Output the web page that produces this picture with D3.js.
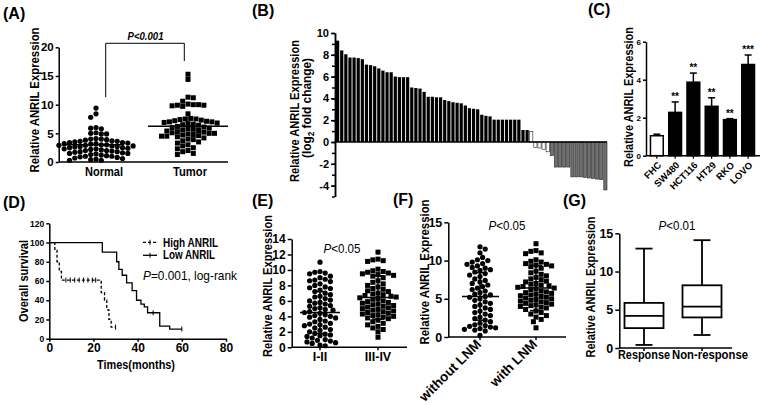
<!DOCTYPE html>
<html><head><meta charset="utf-8">
<script src="https://cdn.jsdelivr.net/npm/d3@7"></script>
<style>
body{margin:0;background:#fff;}
svg{display:block;font-family:"Liberation Sans",Arial,sans-serif;}
</style></head><body>
<svg id="c" width="761" height="405"></svg>
<script>
// ---------------- DATA ----------------
// (A) scatter
const aCats = ["Normal", "Tumor"];
const aNormal = [9.4,8.4,7.8,6.0,5.9,5.8,5.1,5.0,4.9,4.9,4.1,4.0,4.0,3.9,3.8,3.7,3.6,3.6,3.5,3.4,3.4,3.3,3.2,3.2,3.1,3.0,3.0,2.9,2.9,2.8,2.8,2.7,2.7,2.6,2.5,2.5,2.4,2.3,2.3,2.2,2.1,2.0,2.0,1.9,1.8,1.8,1.7,1.6,1.5,1.5,1.4,1.3,1.2,1.1,1.0,1.0,0.9,0.8,0.7,0.6,0.5,0.4,0.3,0.3];
const aTumor = [15.3,14.4,11.3,11.2,10.6,10.1,10.0,10.0,9.9,9.9,9.8,9.7,8.4,7.6,7.5,7.5,7.4,7.3,7.2,7.1,7.0,7.0,6.9,6.8,6.7,6.6,6.5,6.4,6.2,6.1,6.0,5.9,5.8,5.7,5.6,5.5,5.4,5.3,5.2,5.1,5.0,5.0,4.9,4.8,4.7,4.6,4.5,4.5,4.4,4.2,4.0,3.9,3.7,3.5,3.3,3.0,2.8,2.5,2.3,2.0,1.8,1.5,1.3];
const aMeans = [3.0, 6.25];
const aTicks = [0,5,10,15,20];

// (B) waterfall, log2 fold change
const bValues = [9.3,8.4,8.05,7.75,7.75,7.7,7.6,7.1,7.05,6.95,6.75,6.55,6.4,6.4,6.0,5.95,5.95,5.95,5.0,4.95,4.9,4.6,4.15,4.15,4.1,4.1,3.85,3.75,3.65,3.6,3.55,3.35,3.1,3.05,3.0,2.5,2.4,2.35,2.05,2.05,2.05,2.05,2.05,2.05,2.05,
  1.1,1.1,0.95,-0.5,-0.55,-0.7,-0.9,
  -1.25,-2.3,-2.3,-2.3,-2.3,-3.2,-3.2,-3.2,-3.25,-3.3,-3.35,-3.4,-3.45,-4.4];
const bTicks = [-4,-2,0,2,4,6,8,10];

// (C) cell lines
const cLines = ["FHC","SW480","HCT116","HT29","RKO","LOVO"];
const cMeans = [1.05,2.28,3.87,2.6,1.9,4.8];
const cErr   = [0.08,0.55,0.48,0.45,0.05,0.5];
const cStars = ["","**","**","**","**","***"];
const cTicks = [0,2,4,6];

// (D) Kaplan-Meier
const dHighT = [0,2.5,3.5,4.5,5.5,23.5,25,26,27,28,30];
const dHighS = [100,93,80,70,61,48,40,30,20,12,12];
const dHighCens = [7.5,9.5,11.5,13.5,15.5,17.5,19.5,21,30];
const dLowT = [0,24,30.5,31.5,33,35,37.5,39.5,41.5,43,44.5,50,54.5,60];
const dLowS = [100,90,80,72,66,58,50,40,36,33,27,13,10,10];
const dLowCens = [47,60];
const dXTicks = [0,20,40,60,80];
const dYTicks = [0,20,40,60,80,100,120];

// (E) stage
const eCats = ["I-II","III-IV"];
const eI = [11.0,9.8,9.7,9.6,9.5,9.2,9.0,8.8,8.7,8.6,8.5,8.2,8.0,7.8,7.7,7.6,7.4,7.2,7.0,6.8,6.6,6.5,6.3,6.1,6.0,5.8,5.7,5.6,5.4,5.3,5.1,5.0,4.9,4.8,4.6,4.5,4.4,4.2,4.1,4.0,3.9,3.8,3.6,3.4,3.3,3.1,3.0,2.9,2.8,2.6,2.5,2.3,2.2,2.0,1.8,1.7,1.6,1.5,1.4,1.2,1.0,0.9,0.8,0.7,0.6,0.5,0.3,0.2];
const eIII = [12.3,11.4,11.3,11.2,11.1,10.1,9.9,9.8,9.7,9.6,9.5,9.4,9.3,9.2,9.0,8.6,8.4,8.2,8.0,7.8,7.6,7.5,7.3,7.2,7.0,6.9,6.8,6.7,6.6,6.5,6.4,6.3,6.2,6.0,5.9,5.8,5.7,5.6,5.5,5.4,5.3,5.2,5.1,5.0,4.9,4.8,4.7,4.6,4.5,4.4,4.3,4.2,4.1,4.0,3.9,3.8,3.7,3.5,3.3,3.1,2.9,2.7,2.5,2.3,2.0,1.3];
const eMeans = [4.5,6.45];
const eSD = [2.7,2.8];
const eTicks = [0,2,4,6,8,10,12,14];

// (F) lymph node metastasis
const fCats = ["without LNM","with LNM"];
const fWithout = [11.8,11.5,11.0,10.4,10.1,10.0,9.8,9.6,9.5,9.3,9.1,9.0,8.8,8.7,8.5,8.3,8.1,7.9,7.6,7.4,7.2,7.0,6.8,6.6,6.4,6.2,6.0,5.8,5.6,5.5,5.3,5.2,5.0,4.8,4.6,4.4,4.2,4.0,3.8,3.6,3.4,3.2,3.0,2.8,2.6,2.4,2.2,2.0,1.8,1.6,1.5,1.4,1.3,1.2,1.1,1.0,0.9,0.8,0.2];
const fWith = [12.2,11.3,11.2,11.0,10.9,10.1,9.9,9.8,9.6,9.5,9.4,9.3,9.2,9.0,8.6,8.4,8.2,8.0,7.8,7.6,7.5,7.3,7.2,7.0,6.9,6.8,6.7,6.6,6.5,6.4,6.3,6.2,6.0,5.9,5.8,5.7,5.6,5.5,5.4,5.3,5.2,5.1,5.0,4.9,4.8,4.7,4.6,4.5,4.4,4.3,4.2,4.1,4.0,3.9,3.8,3.6,3.4,3.2,3.0,2.8,2.6,2.3,2.0,1.2];
const fMeans = [5.3,6.4];
const fSD = [3.1,2.95];
const fTicks = [0,5,10,15];

// (G) response boxplot
const gCats = ["Response","Non-response"];
const gMin = [0.4,1.7];
const gQ1  = [2.6,4.0];
const gMed = [4.2,5.4];
const gQ3  = [5.9,8.2];
const gMax = [13.0,14.1];
const gTicks = [0,5,10,15];

// ---------------- HELPERS ----------------
const svg = d3.select('#c');
function T(g, x, y, s, o={}){
  const t = g.append('text').attr('x',x).attr('y',y)
    .attr('font-size',o.size||12).attr('font-weight',o.weight||'bold')
    .attr('text-anchor',o.anchor||'start').attr('fill','#000');
  if (s!=null) t.text(s);
  if (o.italic) t.attr('font-style','italic');
  if (o.rot!=null) t.attr('transform',`rotate(${o.rot},${x},${y})`);
  if (o.len) t.attr('textLength',o.len).attr('lengthAdjust','spacingAndGlyphs');
  return t;
}
function yAxis(g, scale, x, ticks, o={}){
  const ax = d3.axisLeft(scale).tickValues(ticks).tickSize(o.ts||3).tickPadding(o.tp||2)
    .tickSizeOuter(0).tickFormat(o.fmt||(d=>String(d)));
  const a = g.append('g').attr('transform',`translate(${x},0)`).call(ax);
  a.attr('font-family',null).attr('font-size',null);
  a.select('.domain').attr('stroke','#000').attr('stroke-width',o.sw||1.5);
  a.selectAll('.tick line').attr('stroke','#000').attr('stroke-width',o.sw||1.5);
  a.selectAll('.tick text').attr('font-size',o.fs||11).attr('font-weight','bold').attr('fill','#000');
  return a;
}
function hline(g,x1,x2,y,sw=1.5){ g.append('line').attr('x1',x1).attr('x2',x2).attr('y1',y).attr('y2',y).attr('stroke','#000').attr('stroke-width',sw); }
function vline(g,x,y1,y2,sw=1.5){ g.append('line').attr('x1',x).attr('x2',x).attr('y1',y1).attr('y2',y2).attr('stroke','#000').attr('stroke-width',sw); }
function swarm(vals, y, cx, d){
  const pts = vals.map(v=>({v, y:y(v)})).sort((a,b)=>a.y-b.y);
  const placed = [];
  pts.forEach((p,i)=>{
    for (let k=0;k<80;k++){
      const step = Math.ceil(k/2)*d*0.5*(k%2?1:-1)*(i%2?1:-1);
      const x = cx+step;
      if (placed.every(q=>{const dx=q.x-x, dy=q.y-p.y; return dx*dx+dy*dy >= d*d*0.92;})){ p.x=x; break; }
    }
    placed.push(p);
  });
  return pts;
}
function dots(g, pts, shape){
  if (shape==='circle'){
    g.selectAll(null).data(pts).join('circle').attr('cx',d=>d.x).attr('cy',d=>d.y).attr('r',2.6).attr('fill','#000');
  } else {
    g.selectAll(null).data(pts).join('rect').attr('x',d=>d.x-2.5).attr('y',d=>d.y-2.5).attr('width',5).attr('height',5).attr('fill','#000');
  }
}
function pText(g, x, y, rest, o={}){
  const t = T(g, x, y, null, {size:o.size||13, anchor:'middle', weight:o.weight||'normal', len:o.len});
  t.append('tspan').attr('font-style','italic').text('P');
  t.append('tspan').text(rest);
  return t;
}
const TITLE = "Relative ANRIL Expression";

// panel labels
[["(A)",3,19],["(B)",252,16],["(C)",588,15],["(D)",3,208],["(E)",252,206],["(F)",393,205],["(G)",563,206]]
  .forEach(([s,x,y])=>T(svg,x,y,s,{size:16}));

// ---------------- (A) ----------------
{
  const g = svg.append('g');
  const y = d3.scaleLinear([0,20],[162,47.3]);
  const x = d3.scalePoint(aCats,[96,188]);
  yAxis(g, y, 58.7, aTicks, {fs:11.5, ts:3});
  hline(g, 58.7, 228, y(0));
  dots(g, swarm(aNormal, y, x("Normal"), 5.3), 'circle');
  dots(g, swarm(aTumor, y, x("Tumor"), 5.3), 'square');
  hline(g, x("Normal")-30, x("Normal")+28, y(aMeans[0]), 1.5);
  hline(g, x("Tumor")-40, x("Tumor")+40, y(aMeans[1]), 1.5);
  T(g, 104, 175.5, "Normal", {size:12.5, anchor:'middle', len:38});
  T(g, 190, 175.5, "Tumor", {size:12.5, anchor:'middle', len:34});
  T(g, 39, 100, TITLE, {size:13, anchor:'middle', rot:-90, len:145});
  g.append('path').attr('d',`M105.7,${y(11.3)}V${y(20.7)}H184.3V${y(17.6)}`).attr('fill','none').attr('stroke','#000').attr('stroke-width',1);
  T(g, 145.5, 39.5, "P<0.001", {size:11, anchor:'middle', italic:true, len:36});
}

// ---------------- (B) ----------------
{
  const g = svg.append('g');
  const y = d3.scaleLinear([-5,10],[196.5,33]);
  const x = d3.scaleBand(d3.range(bValues.length),[336,607]).paddingInner(0.22);
  const cls = v => Math.abs(v) < 1 ? 'nc' : (v > 0 ? 'up' : 'down');
  g.selectAll(null).data(bValues).join('rect')
    .attr('x',(d,i)=>x(i)).attr('width',x.bandwidth())
    .attr('y',d=>Math.min(y(d),y(0))).attr('height',d=>Math.abs(y(d)-y(0)))
    .attr('fill',d=>({up:'#000',nc:'#fff',down:'#707070'})[cls(d)])
    .attr('stroke',d=>cls(d)==='up'?'none':'#222').attr('stroke-width',0.6);
  hline(g, 335, 607, y(0), 1.5);
  yAxis(g, y, 335, d3.range(-5,11,1), {ts:3, fmt:()=>''});
  yAxis(g, y, 335, bTicks, {fs:11, ts:4});
  T(g, 299, 111, TITLE, {size:13, anchor:'middle', rot:-90, len:142});
  const t2 = T(g, 310.5, 108, null, {size:13, anchor:'middle', rot:-90, len:100});
  t2.append('tspan').text('(log');
  t2.append('tspan').attr('font-size',9).attr('dy',3).text('2');
  t2.append('tspan').attr('dy',-3).text(' fold change)');
}

// ---------------- (C) ----------------
{
  const g = svg.append('g');
  const y = d3.scaleLinear([0,6],[155.7,41.7]);
  const x = d3.scaleBand(cLines,[645,760]).padding(0.3);
  cLines.forEach((c,i)=>{
    const cx = x(c)+x.bandwidth()/2, top = y(cMeans[i]+cErr[i]);
    vline(g, cx, y(cMeans[i]), top, 1.5);
    hline(g, cx-3.5, cx+3.5, top, 1.5);
    g.append('rect').attr('x',x(c)).attr('width',x.bandwidth()).attr('y',y(cMeans[i])).attr('height',y(0)-y(cMeans[i]))
      .attr('fill',i===0?'#fff':'#000').attr('stroke','#000').attr('stroke-width',1.5);
    if (cStars[i]) T(g, cx, top-2, cStars[i], {size:10, anchor:'middle'});
    vline(g, cx, y(0), y(0)+3, 1.2);
    T(g, cx+5, y(0)+10, c, {size:9.5, anchor:'end', rot:-45});
  });
  hline(g, 646, 760, y(0), 1.5);
  yAxis(g, y, 646, cTicks, {fs:8, ts:3});
  T(g, 633, 97, TITLE, {size:13, anchor:'middle', rot:-90, len:140});
}

// ---------------- (D) ----------------
{
  const g = svg.append('g');
  const x = d3.scaleLinear([0,80],[49.3,226]);
  const y = d3.scaleLinear([0,120],[338.7,223.3]);
  yAxis(g, y, 49.3, dYTicks, {fs:8.5, ts:3});
  const ax = g.append('g').attr('transform',`translate(0,${y(0)})`)
    .call(d3.axisBottom(x).tickValues(dXTicks).tickSize(3).tickPadding(2).tickSizeOuter(0));
  ax.attr('font-family',null).attr('font-size',null);
  ax.select('.domain').attr('stroke-width',1.5);
  ax.selectAll('.tick line').attr('stroke-width',1.5);
  ax.selectAll('.tick text').attr('font-size',12).attr('font-weight','bold');
  const line = d3.line().x(d=>x(d[0])).y(d=>y(d[1])).curve(d3.curveStepAfter);
  const hi = dHighT.map((t,i)=>[t,dHighS[i]]);
  const lo = dLowT.map((t,i)=>[t,dLowS[i]]);
  g.append('path').attr('d',line(hi)).attr('fill','none').attr('stroke','#000').attr('stroke-width',1.3).attr('stroke-dasharray','3,2');
  g.append('path').attr('d',line(lo)).attr('fill','none').attr('stroke','#000').attr('stroke-width',1.3);
  const sAt = (T_,S_,t) => { let s=S_[0]; T_.forEach((tt,i)=>{ if (tt<=t) s=S_[i]; }); return s; };
  dHighCens.forEach(t=>vline(g, x(t), y(sAt(dHighT,dHighS,t))-2.5, y(sAt(dHighT,dHighS,t))+2.5, 1));
  dLowCens.forEach(t=>vline(g, x(t), y(sAt(dLowT,dLowS,t))-2.5, y(sAt(dLowT,dLowS,t))+2.5, 1));
  // legend
  g.append('line').attr('x1',143).attr('x2',157).attr('y1',242.3).attr('y2',242.3).attr('stroke','#000').attr('stroke-width',1.3).attr('stroke-dasharray','3,2');
  vline(g,150,239.8,244.8,1);
  hline(g,143,157,255.3,1.3); vline(g,150,252.8,257.8,1);
  T(g, 163, 246.7, "High ANRIL", {size:12, len:55});
  T(g, 163, 259.3, "Low ANRIL", {size:12, len:52});
  const pt = T(g, 143, 280, null, {size:13, weight:'normal', len:94});
  pt.append('tspan').attr('font-style','italic').text('P');
  pt.append('tspan').text('=0.001, log-rank');
  T(g, 28, 281, "Overall survival", {size:12.5, anchor:'middle', rot:-90, len:82});
  T(g, 136, 368.5, "Times(months)", {size:13, anchor:'middle', len:78});
}

// ---------------- (E) ----------------
{
  const g = svg.append('g');
  const y = d3.scaleLinear([0,14],[347.3,239]);
  const x = d3.scalePoint(eCats,[320,378]);
  yAxis(g, y, 291.7, eTicks, {fs:12, ts:4});
  hline(g, 291.7, 407, y(0));
  dots(g, swarm(eI, y, x("I-II"), 5.2), 'circle');
  dots(g, swarm(eIII, y, x("III-IV"), 5.2), 'square');
  eCats.forEach((c,i)=>{
    const cx = x(c);
    hline(g, cx-20, cx+20, y(eMeans[i]), 1.5);
    vline(g, cx, y(eMeans[i]-eSD[i]), y(eMeans[i]+eSD[i]), 1.5);
    hline(g, cx-6, cx+6, y(eMeans[i]-eSD[i]), 1.5);
    hline(g, cx-6, cx+6, y(eMeans[i]+eSD[i]), 1.5);
    vline(g, cx, y(0), y(0)+3, 1.5);
    T(g, cx, 361, c, {size:12.5, anchor:'middle'});
  });
  T(g, 271.5, 286, TITLE, {size:13, anchor:'middle', rot:-90, len:142});
  pText(g, 342, 253, "<0.05", {size:13, len:37});
}

// ---------------- (F) ----------------
{
  const g = svg.append('g');
  const y = d3.scaleLinear([0,15],[337,222.3]);
  const x = d3.scalePoint(fCats,[480,536]);
  yAxis(g, y, 448.3, fTicks, {fs:12.5, ts:4});
  hline(g, 448.3, 566, y(0));
  dots(g, swarm(fWithout, y, x("without LNM"), 5.2), 'circle');
  dots(g, swarm(fWith, y, x("with LNM"), 5.2), 'square');
  fCats.forEach((c,i)=>{
    const cx = x(c);
    hline(g, cx-18, cx+19, y(fMeans[i]), 1.5);
    vline(g, cx, y(fMeans[i]-fSD[i]), y(fMeans[i]+fSD[i]), 1.5);
    hline(g, cx-6, cx+6, y(fMeans[i]-fSD[i]), 1.5);
    hline(g, cx-6, cx+6, y(fMeans[i]+fSD[i]), 1.5);
    vline(g, cx, y(0), y(0)+3, 1.5);
    T(g, cx+2, 345, c, {size:13.5, anchor:'end', rot:-45});
  });
  T(g, 429, 272, TITLE, {size:13, anchor:'middle', rot:-90, len:145});
  pText(g, 507, 230, "<0.05", {size:13, len:37});
}

// ---------------- (G) ----------------
{
  const g = svg.append('g');
  const y = d3.scaleLinear([0,15],[348,233.3]);
  const x = d3.scalePoint(gCats,[644,702]);
  yAxis(g, y, 619.3, gTicks, {fs:12.5, ts:4});
  hline(g, 619.3, 732, y(0));
  gCats.forEach((c,i)=>{
    const cx = x(c);
    vline(g, cx, y(gMin[i]), y(gQ1[i]), 1.8);
    vline(g, cx, y(gQ3[i]), y(gMax[i]), 1.8);
    hline(g, cx-8.5, cx+8.5, y(gMin[i]), 1.8);
    hline(g, cx-8.5, cx+8.5, y(gMax[i]), 1.8);
    g.append('rect').attr('x',cx-19.5).attr('width',39).attr('y',y(gQ3[i])).attr('height',y(gQ1[i])-y(gQ3[i]))
      .attr('fill','#fff').attr('stroke','#000').attr('stroke-width',1.8);
    hline(g, cx-19.5, cx+19.5, y(gMed[i]), 1.8);
    vline(g, cx, y(0), y(0)+3, 1.5);
  });
  T(g, 644, 359, "Response", {size:12.5, anchor:'middle', len:52});
  T(g, 710, 359, "Non-response", {size:12.5, anchor:'middle', len:76});
  T(g, 595, 287, TITLE, {size:13, anchor:'middle', rot:-90, len:141});
  pText(g, 677, 230, "<0.01", {size:13, len:37});
}
</script></body></html>
